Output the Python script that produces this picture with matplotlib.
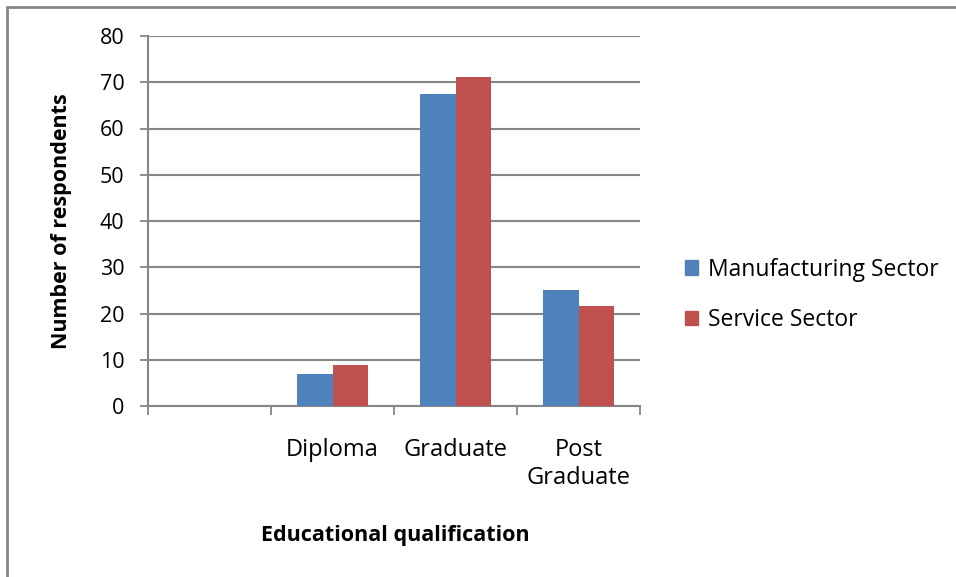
import numpy as np
import matplotlib
matplotlib.use("Agg")
import matplotlib.pyplot as plt
from matplotlib.patches import Rectangle, Patch

plt.rcParams['font.family'] = ['Open Sans', 'DejaVu Sans']

# data
categories = ["", "Diploma", "Graduate", "Post\nGraduate"]
manufacturing = [0, 7, 67.5, 25.1]
service = [0, 8.9, 71.1, 21.6]
series_names = ["Manufacturing Sector", "Service Sector"]
yticks = [0, 10, 20, 30, 40, 50, 60, 70, 80]

BLUE = "#4f81bd"
RED = "#c0504d"
GRID = "#868686"

W, H = 956, 577
fig = plt.figure(figsize=(W / 100, H / 100), dpi=100)
# plot area in pixels: x 148..640, y 36..406
ax = fig.add_axes([148 / W, 1 - 406 / H, (640 - 148) / W, (406 - 36) / H])

x = np.arange(len(categories))
bw = 1 / 3.5
ax.bar(x - bw / 2, manufacturing, width=bw, color=BLUE, zorder=3)
ax.bar(x + bw / 2, service, width=bw, color=RED, zorder=3)

ax.set_xlim(-0.5, len(categories) - 0.5)
ax.set_ylim(0, 80)
ax.set_yticks(yticks)
ax.yaxis.grid(True, color=GRID, linewidth=1.5, zorder=0)
ax.set_axisbelow(True)

# category boundary ticks, labels centred between them
ax.set_xticks(np.arange(len(categories) + 1) - 0.5)
ax.set_xticklabels([])
ax.set_xticks(x, minor=True)
ax.set_xticklabels(categories, minor=True, fontsize=17, linespacing=1.25)
ax.tick_params(axis='x', which='minor', length=0, pad=23)
ax.tick_params(axis='x', which='major', length=6.5, width=1.3, color=GRID)
ax.tick_params(axis='y', length=6, width=1.3, color=GRID, labelsize=15.5, pad=11)

for s in ["top", "right"]:
    ax.spines[s].set_visible(False)
for s in ["left", "bottom"]:
    ax.spines[s].set_color(GRID)
    ax.spines[s].set_linewidth(1.5)

ax.set_ylabel("Number of respondents", fontsize=15.5, fontweight='bold')
ax.yaxis.label.set_va('center')
ax.yaxis.set_label_coords((62 - 148) / 492, 0.5)
ax.set_xlabel("Educational qualification", fontsize=15.5, fontweight='bold')
ax.xaxis.label.set_va('center')
ax.xaxis.set_label_coords((395 - 148) / 492, (406 - 535) / 370)

handles = [Patch(color=BLUE), Patch(color=RED)]
fig.legend(handles, series_names, loc='center left',
           bbox_to_anchor=(664 / W, 1 - 295 / H), frameon=False, fontsize=16.5,
           handlelength=0.6, handleheight=0.6, handletextpad=0.4,
           labelspacing=1.15)

# outer chart frame
fig.patches.append(Rectangle((7 / W, -0.1), 1.2, 1 - 7 / H + 0.1,
                             transform=fig.transFigure, fill=False,
                             edgecolor=GRID, linewidth=2))

fig.savefig("out.png", dpi=100)
